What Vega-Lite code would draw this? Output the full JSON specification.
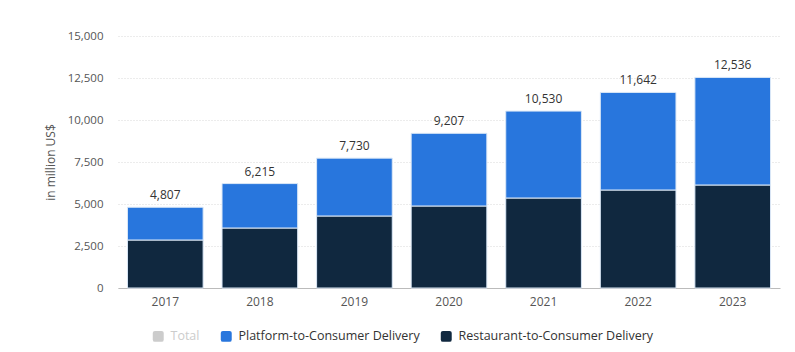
{
  "$schema": "https://vega.github.io/schema/vega-lite/v6.json",
  "autosize": {"type": "none"},
  "padding": {"left": 118, "top": 36, "right": 12, "bottom": 64},
  "width": 662,
  "height": 252,
  "background": "white",
  "config": {
    "font": "Open Sans",
    "view": {"stroke": null}
  },
  "datasets": {
    "parts": [
      {"year": "2017", "series": "Restaurant-to-Consumer Delivery", "value": 2857},
      {"year": "2018", "series": "Restaurant-to-Consumer Delivery", "value": 3571},
      {"year": "2019", "series": "Restaurant-to-Consumer Delivery", "value": 4286},
      {"year": "2020", "series": "Restaurant-to-Consumer Delivery", "value": 4881},
      {"year": "2021", "series": "Restaurant-to-Consumer Delivery", "value": 5357},
      {"year": "2022", "series": "Restaurant-to-Consumer Delivery", "value": 5833},
      {"year": "2023", "series": "Restaurant-to-Consumer Delivery", "value": 6131},
      {"year": "2017", "series": "Platform-to-Consumer Delivery", "value": 1950},
      {"year": "2018", "series": "Platform-to-Consumer Delivery", "value": 2644},
      {"year": "2019", "series": "Platform-to-Consumer Delivery", "value": 3444},
      {"year": "2020", "series": "Platform-to-Consumer Delivery", "value": 4326},
      {"year": "2021", "series": "Platform-to-Consumer Delivery", "value": 5173},
      {"year": "2022", "series": "Platform-to-Consumer Delivery", "value": 5809},
      {"year": "2023", "series": "Platform-to-Consumer Delivery", "value": 6405}
    ],
    "totals": [
      {"year": "2017", "total": 4807},
      {"year": "2018", "total": 6215},
      {"year": "2019", "total": 7730},
      {"year": "2020", "total": 9207},
      {"year": "2021", "total": 10530},
      {"year": "2022", "total": 11642},
      {"year": "2023", "total": 12536}
    ]
  },
  "layer": [
    {
      "data": {"name": "parts"},
      "mark": {"type": "bar", "stroke": "#dbe8f7", "strokeWidth": 1},
      "encoding": {
        "x": {
          "field": "year", "type": "nominal",
          "scale": {"paddingInner": 0.2, "paddingOuter": 0.1},
          "axis": {
            "title": null, "labelAngle": 0, "ticks": false,
            "domainColor": "#bbbbbb", "labelColor": "#555555",
            "labelFontSize": 12, "labelPadding": 8, "grid": false
          }
        },
        "y": {
          "field": "value", "type": "quantitative", "stack": "zero",
          "scale": {"domain": [0, 15000], "nice": false, "zero": true},
          "axis": {
            "title": "in million US$", "titleFontWeight": "normal",
            "titleFontSize": 12, "titleColor": "#555555", "titlePadding": 10,
            "values": [0, 2500, 5000, 7500, 10000, 12500, 15000],
            "labelExpr": "format(datum.value, ',')",
            "domain": false, "ticks": false,
            "labelPadding": 15, "labelColor": "#555555", "labelFontSize": 11.5,
            "gridColor": "#d9d9d9", "gridDash": [1, 2], "gridWidth": 1
          }
        },
        "color": {
          "field": "series", "type": "nominal",
          "scale": {
            "domain": ["Total", "Platform-to-Consumer Delivery", "Restaurant-to-Consumer Delivery"],
            "range": ["#cccccc", "#2876dd", "#10283f"]
          },
          "legend": {
            "title": null, "orient": "none", "direction": "horizontal",
            "legendX": 34, "legendY": 294,
            "symbolType": "M -0.6 -1 L 0.6 -1 Q 1 -1 1 -0.6 L 1 0.6 Q 1 1 0.6 1 L -0.6 1 Q -1 1 -1 0.6 L -1 -0.6 Q -1 -1 -0.6 -1 Z",
            "symbolSize": 120, "symbolStrokeWidth": 0,
            "labelFontSize": 12.5, "columnPadding": 20,
            "labelColor": {"expr": "datum.label === 'Total' ? '#cccccc' : '#333333'"},
            "labelOffset": 6, "labelLimit": 0
          }
        },
        "order": {"field": "series", "sort": "descending"}
      }
    },
    {
      "data": {"name": "totals"},
      "mark": {"type": "text", "baseline": "bottom", "dy": -5, "fontSize": 12, "color": "#333333"},
      "encoding": {
        "x": {"field": "year", "type": "nominal"},
        "y": {"field": "total", "type": "quantitative", "scale": {"domain": [0, 15000], "nice": false}},
        "text": {"field": "total", "type": "quantitative", "format": ","}
      }
    }
  ]
}
